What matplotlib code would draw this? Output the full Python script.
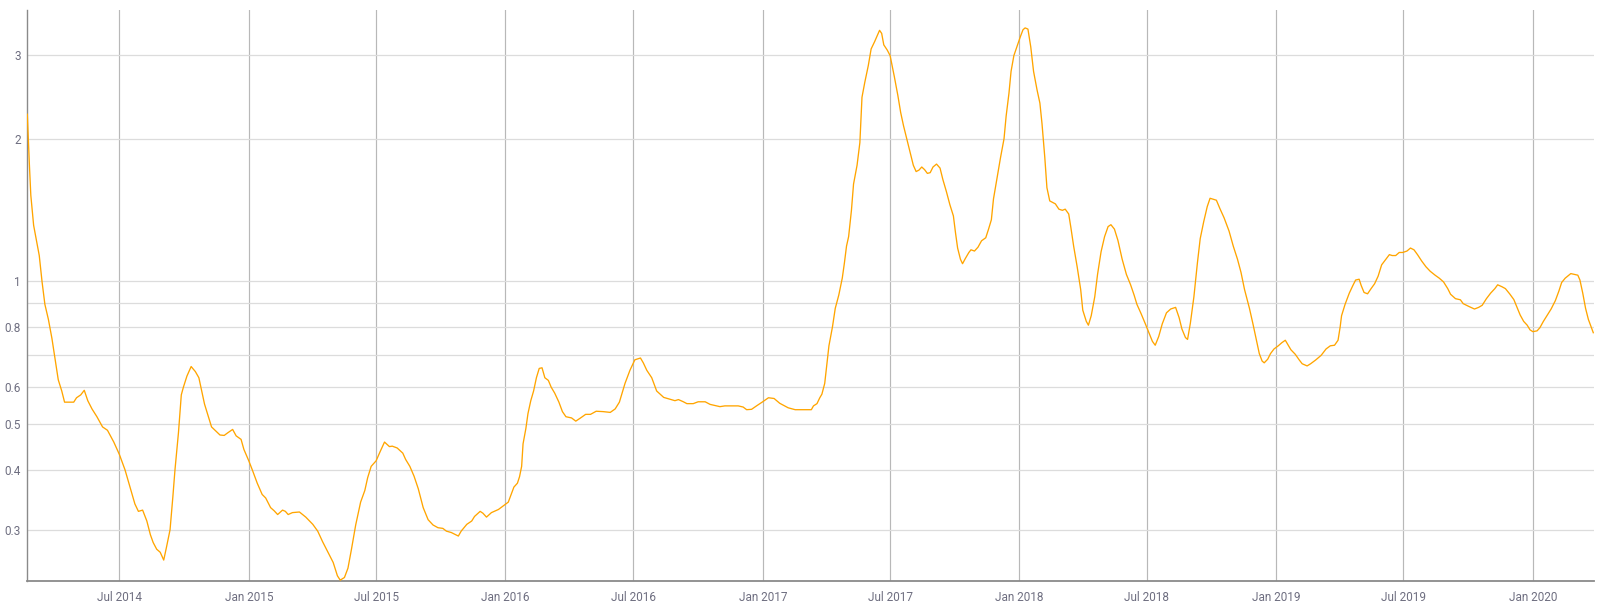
import matplotlib
matplotlib.use("Agg")
import matplotlib.pyplot as plt
import matplotlib.ticker as mticker
import numpy as np
import pandas as pd

# ---- data: days since 2014-07-01 and ratio values ----
base_date = "2014-07-01"

days_2014 = [-131, -128, -126, -122, -118, -114, -110, -106, -101, -96,
             -91, -87, -82, -78, -70, -65, -61, -55, -50, -45,
             -39, -32, -24, -17, -8, 0, 8, 15, 22, 27,
             33, 39, 44, 48, 53, 58, 63, 67, 72, 76,
             79, 84, 88, 91, 96, 102, 108, 113, 117, 121,
             126, 131, 138, 143, 149, 154, 161, 166, 173, 177]
vals_2014 = [2.25, 1.758, 1.519, 1.313, 1.22, 1.134, 0.998, 0.895, 0.832, 0.759,
             0.680, 0.621, 0.588, 0.557, 0.557, 0.557, 0.569, 0.577, 0.590, 0.561,
             0.539, 0.519, 0.494, 0.486, 0.459, 0.432, 0.401, 0.369, 0.340, 0.328,
             0.330, 0.313, 0.293, 0.282, 0.273, 0.269, 0.259, 0.276, 0.300, 0.352,
             0.401, 0.481, 0.577, 0.599, 0.632, 0.662, 0.646, 0.627, 0.588, 0.552,
             0.522, 0.494, 0.483, 0.475, 0.474, 0.480, 0.488, 0.473, 0.465, 0.443]

days_2015 = [184, 189, 196, 203, 208, 215, 220, 225, 232, 236,
             240, 246, 256, 265, 275, 282, 289, 296, 304, 310,
             314, 320, 325, 330, 336, 343, 349, 353, 358, 365,
             371, 377, 384, 388, 395, 403, 407, 413, 419, 425,
             432, 439, 446, 453, 460, 465, 472, 482, 486, 494,
             501, 505, 513, 517, 522, 529, 539, 546]
vals_2015 = [0.419, 0.401, 0.376, 0.356, 0.350, 0.334, 0.329, 0.323, 0.330, 0.328,
             0.323, 0.326, 0.327, 0.319, 0.308, 0.298, 0.283, 0.270, 0.256, 0.240,
             0.235, 0.238, 0.249, 0.273, 0.307, 0.343, 0.363, 0.386, 0.408, 0.419,
             0.439, 0.459, 0.449, 0.450, 0.446, 0.435, 0.422, 0.408, 0.389, 0.366,
             0.334, 0.315, 0.307, 0.303, 0.302, 0.298, 0.296, 0.291, 0.298, 0.308,
             0.313, 0.320, 0.328, 0.325, 0.319, 0.326, 0.331, 0.337]

days_2016 = [553, 558, 561, 566, 569, 572, 574, 578, 581, 585,
             589, 593, 597, 601, 605, 610, 614, 619, 625, 630,
             635, 643, 649, 655, 663, 670, 678, 688, 698, 705,
             711, 719, 726, 733, 741, 745, 750, 757, 764, 774,
             783, 790, 795, 802, 807, 816, 823, 833, 840, 847,
             854, 861, 873, 880, 887, 892, 899, 906]
vals_2016 = [0.343, 0.359, 0.369, 0.376, 0.388, 0.408, 0.455, 0.490, 0.527, 0.561,
             0.588, 0.627, 0.656, 0.658, 0.627, 0.619, 0.599, 0.582, 0.557, 0.532,
             0.519, 0.516, 0.508, 0.515, 0.525, 0.525, 0.533, 0.532, 0.530, 0.539,
             0.557, 0.610, 0.650, 0.684, 0.690, 0.674, 0.650, 0.627, 0.588, 0.570,
             0.565, 0.561, 0.564, 0.558, 0.553, 0.553, 0.558, 0.558, 0.551, 0.548,
             0.545, 0.547, 0.547, 0.547, 0.544, 0.537, 0.538, 0.547]

days_2017 = [914, 923, 931, 939, 944, 951, 961, 973, 984, 987,
             992, 996, 999, 1003, 1006, 1009, 1014, 1018, 1023, 1028,
             1031, 1034, 1037, 1041, 1044, 1049, 1053, 1056, 1060, 1065,
             1069, 1074, 1078, 1081, 1084, 1087, 1092, 1096, 1102, 1107,
             1111, 1115, 1119, 1124, 1129, 1133, 1137, 1141, 1145, 1149,
             1153, 1157, 1162, 1167, 1171, 1176, 1181, 1186, 1189, 1192,
             1196, 1199, 1203, 1208, 1211, 1216, 1221, 1226, 1232, 1236,
             1240, 1243, 1248, 1253, 1258, 1261, 1265, 1268, 1272, 1277]
vals_2017 = [0.557, 0.569, 0.567, 0.554, 0.549, 0.542, 0.537, 0.537, 0.537, 0.547,
             0.553, 0.569, 0.579, 0.610, 0.668, 0.732, 0.802, 0.878, 0.936, 1.017,
             1.094, 1.187, 1.243, 1.412, 1.604, 1.757, 1.961, 2.443, 2.627, 2.850,
             3.088, 3.20, 3.30, 3.38, 3.33, 3.15, 3.07, 2.99, 2.70, 2.465,
             2.27, 2.13, 2.016, 1.885, 1.757, 1.704, 1.716, 1.742, 1.720, 1.689,
             1.695, 1.742, 1.767, 1.733, 1.640, 1.547, 1.451, 1.374, 1.266, 1.176,
             1.114, 1.090, 1.118, 1.151, 1.166, 1.159, 1.181, 1.218, 1.236, 1.289,
             1.349, 1.492, 1.649, 1.823, 1.998, 2.23, 2.49, 2.77, 2.99, 3.14]

days_2018 = [1281, 1285, 1288, 1292, 1296, 1300, 1305, 1309, 1312, 1316,
             1319, 1323, 1326, 1331, 1336, 1341, 1345, 1350, 1353, 1357,
             1362, 1367, 1370, 1375, 1378, 1382, 1387, 1391, 1396, 1401,
             1406, 1410, 1415, 1420, 1426, 1432, 1438, 1443, 1447, 1453,
             1459, 1464, 1469, 1473, 1478, 1483, 1489, 1495, 1502, 1507,
             1511, 1516, 1519, 1523, 1528, 1533, 1537, 1542, 1547, 1551,
             1555, 1560, 1565, 1571, 1578, 1584, 1590, 1595, 1600, 1607,
             1612, 1617, 1621, 1625, 1628, 1633, 1637, 1642]
vals_2018 = [3.27, 3.39, 3.42, 3.40, 3.12, 2.77, 2.53, 2.375, 2.15, 1.823,
             1.576, 1.478, 1.47, 1.457, 1.420, 1.412, 1.420, 1.387, 1.301, 1.187,
             1.074, 0.962, 0.870, 0.824, 0.809, 0.847, 0.928, 1.035, 1.155, 1.243,
             1.305, 1.317, 1.289, 1.22, 1.114, 1.035, 0.984, 0.936, 0.895, 0.855,
             0.814, 0.780, 0.748, 0.734, 0.766, 0.814, 0.859, 0.875, 0.882, 0.839,
             0.794, 0.762, 0.755, 0.817, 0.928, 1.094, 1.231, 1.337, 1.438, 1.497,
             1.491, 1.483, 1.424, 1.361, 1.277, 1.187, 1.114, 1.045, 0.962, 0.878,
             0.814, 0.752, 0.705, 0.680, 0.674, 0.686, 0.705, 0.721]

days_2019 = [1648, 1653, 1658, 1661, 1666, 1672, 1678, 1682, 1689, 1694,
             1701, 1709, 1716, 1722, 1728, 1733, 1736, 1738, 1743, 1749,
             1754, 1758, 1763, 1766, 1770, 1775, 1780, 1785, 1790, 1795,
             1801, 1806, 1810, 1815, 1820, 1825, 1831, 1836, 1841, 1846,
             1852, 1858, 1864, 1871, 1877, 1883, 1889, 1893, 1900, 1907,
             1911, 1919, 1927, 1933, 1938, 1944, 1950, 1956, 1960, 1966,
             1971, 1977, 1983, 1987, 1992, 1997, 2002, 2006, 2010, 2016,
             2020, 2025, 2030, 2036, 2042, 2047, 2051, 2056, 2061, 2064,
             2069, 2074, 2077, 2081, 2085, 2089, 2093, 2096]
vals_2019 = [0.732, 0.743, 0.752, 0.739, 0.718, 0.703, 0.683, 0.671, 0.664, 0.671,
             0.683, 0.699, 0.721, 0.732, 0.734, 0.752, 0.802, 0.847, 0.895, 0.945,
             0.980, 1.007, 1.011, 0.980, 0.948, 0.942, 0.966, 0.989, 1.026, 1.084,
             1.114, 1.139, 1.134, 1.134, 1.151, 1.151, 1.159, 1.176, 1.166, 1.139,
             1.104, 1.074, 1.051, 1.031, 1.016, 0.998, 0.966, 0.940, 0.920, 0.915,
             0.898, 0.886, 0.875, 0.882, 0.891, 0.920, 0.945, 0.966, 0.984, 0.975,
             0.966, 0.942, 0.916, 0.886, 0.850, 0.824, 0.809, 0.791, 0.784, 0.787,
             0.799, 0.824, 0.847, 0.875, 0.911, 0.954, 0.995, 1.016, 1.030, 1.039,
             1.035, 1.031, 1.007, 0.945, 0.878, 0.832, 0.802, 0.780]

y_tick_values = [0.3, 0.4, 0.5, 0.6, 0.8, 1, 2, 3]
y_tick_labels = ["0.3", "0.4", "0.5", "0.6", "0.8", "1", "2", "3"]
y_extra_grid = [0.7, 0.9]
x_tick_dates = ["2014-07-01", "2015-01-01", "2015-07-01", "2016-01-01", "2016-07-01",
                "2017-01-01", "2017-07-01", "2018-01-01", "2018-07-01", "2019-01-01",
                "2019-07-01", "2020-01-01"]
x_tick_labels = ["Jul 2014", "Jan 2015", "Jul 2015", "Jan 2016", "Jul 2016",
                 "Jan 2017", "Jul 2017", "Jan 2018", "Jul 2018", "Jan 2019",
                 "Jul 2019", "Jan 2020"]
x_range = ("2014-02-20", "2020-03-28")
y_range = (0.234, 3.73)

# ---- assemble ----
days = days_2014 + days_2015 + days_2016 + days_2017 + days_2018 + days_2019
vals = vals_2014 + vals_2015 + vals_2016 + vals_2017 + vals_2018 + vals_2019
dates = pd.Timestamp(base_date) + pd.to_timedelta(days, unit="D")

plt.rcParams["font.family"] = ["Roboto", "DejaVu Sans"]

fig = plt.figure(figsize=(16, 6.07), dpi=100)
ax = fig.add_axes([27.3 / 1600, 1 - 581 / 607, (1594 - 27.3) / 1600, (581 - 10) / 607])

ax.plot(dates, vals, color="#FFA500", lw=0.95, solid_joinstyle="round", zorder=3)

ax.set_yscale("log")
ax.set_ylim(*y_range)
ax.set_xlim(pd.Timestamp(x_range[0]), pd.Timestamp(x_range[1]))

ax.yaxis.set_major_locator(mticker.FixedLocator(y_tick_values))
ax.yaxis.set_major_formatter(mticker.FixedFormatter(y_tick_labels))
ax.yaxis.set_minor_locator(mticker.FixedLocator(y_extra_grid))
ax.yaxis.set_minor_formatter(mticker.NullFormatter())

xt = pd.to_datetime(x_tick_dates)
ax.set_xticks(xt)
ax.set_xticklabels(x_tick_labels)
ax.xaxis.set_minor_locator(mticker.NullLocator())

ax.grid(axis="y", which="both", color="#dcdcdc", lw=0.9, zorder=0)
ax.grid(axis="x", which="major", color="#b8b8b8", lw=0.85, zorder=0)

for s in ["top", "right"]:
    ax.spines[s].set_visible(False)
ax.spines["left"].set_color("#8a8a8a")
ax.spines["left"].set_linewidth(1.0)
ax.spines["bottom"].set_color("#8a8a8a")
ax.spines["bottom"].set_linewidth(1.3)

ax.tick_params(axis="both", which="both", length=0, colors="#6e6e80", labelsize=8.5)
ax.tick_params(axis="y", pad=4.5)
ax.tick_params(axis="x", pad=7)

fig.savefig("out.png", dpi=100)
